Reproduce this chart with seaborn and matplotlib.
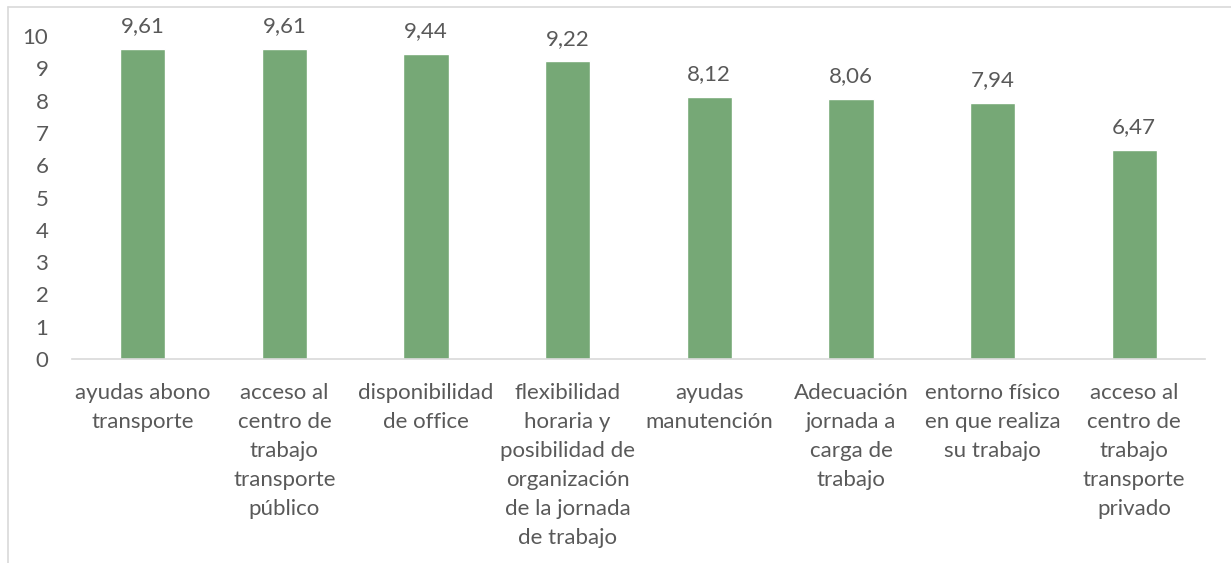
import numpy as np
import pandas as pd
import matplotlib
matplotlib.use("Agg")
import matplotlib.pyplot as plt
import seaborn as sns
from matplotlib.lines import Line2D

# datos del gráfico
categorias = [
    "ayudas abono\ntransporte",
    "acceso al\ncentro de\ntrabajo\ntransporte\npúblico",
    "disponibilidad\nde office",
    "flexibilidad\nhoraria y\nposibilidad de\norganización\nde la jornada\nde trabajo",
    "ayudas\nmanutención",
    "Adecuación\njornada a\ncarga de\ntrabajo",
    "entorno físico\nen que realiza\nsu trabajo",
    "acceso al\ncentro de\ntrabajo\ntransporte\nprivado",
]
valores = [9.61, 9.61, 9.44, 9.22, 8.12, 8.06, 7.94, 6.47]
etiquetas_y = [0, 1, 2, 3, 4, 5, 6, 7, 8, 9, 10]

df = pd.DataFrame({"categoria": categorias, "valor": valores})

sns.set_style("white")
plt.rcParams["font.family"] = ["Lato", "DejaVu Sans"]

gris = "#595959"
fig = plt.figure(figsize=(12.31, 5.63), dpi=100)
ax = fig.add_axes([72 / 1231, 1 - 359 / 563, (1205 - 72) / 1231, (359 - 36) / 563])

sns.barplot(data=df, x="categoria", y="valor", color="#76A876", width=0.32,
            saturation=1, ax=ax)

ax.set_ylim(0, 10)
ax.set_yticks(etiquetas_y)
ax.set_xlim(-0.5, len(categorias) - 0.5)
ax.set_xlabel("")
ax.set_ylabel("")

for s in ["top", "right", "left"]:
    ax.spines[s].set_visible(False)
ax.spines["bottom"].set_color("#D9D9D9")
ax.spines["bottom"].set_linewidth(1.2)

ax.tick_params(axis="y", length=0, pad=17, labelsize=16, labelcolor=gris)
ax.tick_params(axis="x", length=0, pad=17, labelsize=16, labelcolor=gris)
for t in ax.get_xticklabels():
    t.set_linespacing(1.57)

ax.bar_label(ax.containers[0], labels=[f"{v:.2f}".replace(".", ",") for v in valores],
             padding=9, fontsize=16, color=gris)

# marco del gráfico (izquierda y arriba)
fig.add_artist(Line2D([8 / 1231, 8 / 1231], [0, 1 - 7 / 563], color="#D9D9D9", lw=1.2))
fig.add_artist(Line2D([8 / 1231, 1], [1 - 7 / 563, 1 - 7 / 563], color="#D9D9D9", lw=1.2))

fig.savefig("out.png", dpi=100)
